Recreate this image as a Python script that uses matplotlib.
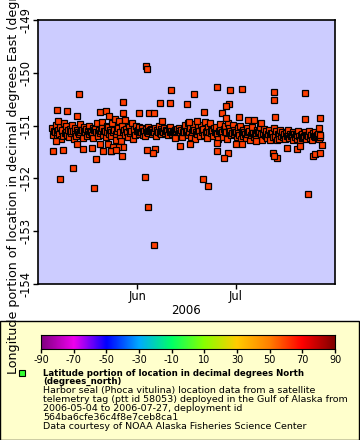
import numpy as np
import matplotlib
matplotlib.use('Agg')
import matplotlib.pyplot as plt
from matplotlib.colors import LinearSegmentedColormap
from matplotlib.patches import Rectangle
from matplotlib.lines import Line2D

plt.rcParams['font.family'] = 'DejaVu Sans'

# days since 2006-05-01, longitude (deg E)
base = np.datetime64('2006-05-01T00:00')
fix_hours = [3, 9, 15, 21]

# main band: day, then one value per fix of that day
band_rows = [
    (5, -151.05, -151.18, -151.10, -151.12), (6, -150.98, -151.22, -151.12, -151.08),
    (7, -151.15, -151.03, -151.25, -151.11), (8, -151.08, -151.20, -150.96, -151.14),
    (9, -151.12, -151.00, -151.17, -151.09), (10, -151.22, -151.07, -151.14, -151.10),
    (11, -150.99, -151.11, -151.26, -151.13), (12, -151.04, -151.19, -151.09, -151.12),
    (13, -151.16, -150.97, -151.13, -151.08), (14, -151.08, -151.23, -151.02, -151.11),
    (15, -151.13, -151.06, -151.20, -151.10), (16, -151.01, -151.15, -151.10, -151.13),
    (17, -151.18, -151.04, -151.24, -151.09), (18, -151.07, -151.12, -150.95, -151.14),
    (19, -151.20, -151.09, -151.14, -151.11), (20, -150.93, -151.05, -151.17, -151.10),
    (21, -151.11, -151.22, -151.00, -151.13), (22, -151.03, -151.16, -151.08, -151.12),
    (23, -151.19, -150.96, -151.12, -151.09), (24, -150.88, -151.15, -151.27, -151.10),
    (25, -151.05, -150.92, -151.20, -151.12), (26, -151.30, -151.00, -151.12, -151.08),
    (27, -150.90, -151.18, -151.07, -151.13), (28, -151.22, -151.03, -151.14, -151.10),
    (29, -151.10, -150.95, -151.25, -151.12), (30, -151.06, -151.17, -151.00, -151.11),
    (31, -151.08, -151.15, -151.03, -151.12), (32, -151.12, -151.05, -151.18, -151.10),
    (33, -151.10, -151.20, -151.06, -151.13), (34, -151.14, -151.02, -151.11, -151.09),
    (35, -151.07, -151.16, -151.09, -151.12), (36, -151.13, -151.04, -151.19, -151.10),
    (37, -151.09, -151.12, -151.01, -151.14), (38, -151.16, -151.07, -151.11, -151.13),
    (39, -151.05, -151.14, -151.10, -151.08), (40, -151.11, -151.18, -151.06, -151.12),
    (41, -151.03, -151.10, -151.15, -151.12), (42, -151.12, -151.08, -151.20, -151.10),
    (43, -151.07, -151.16, -151.04, -151.11), (44, -151.14, -151.09, -151.22, -151.12),
    (45, -151.06, -151.12, -150.98, -151.10), (46, -151.10, -150.95, -151.18, -151.13),
    (47, -151.04, -151.22, -151.12, -151.09), (48, -150.97, -151.08, -151.25, -151.12),
    (49, -151.15, -151.02, -151.10, -151.11), (50, -151.20, -150.99, -151.13, -151.08),
    (51, -151.06, -151.17, -150.94, -151.12), (52, -151.11, -151.24, -151.03, -151.13),
    (53, -150.96, -151.14, -151.08, -151.11), (54, -151.19, -151.05, -151.12, -151.10),
    (55, -151.02, -151.16, -151.26, -151.11), (56, -151.09, -150.97, -151.14, -151.12),
    (57, -151.21, -151.07, -151.00, -151.13), (58, -151.13, -151.25, -150.95, -151.10),
    (59, -151.04, -151.11, -151.18, -151.14), (60, -150.98, -151.15, -151.08, -151.12),
    (61, -151.12, -151.22, -151.05, -151.14), (62, -151.17, -151.00, -151.26, -151.12),
    (63, -151.08, -151.19, -151.13, -151.15), (64, -151.24, -151.04, -151.15, -151.13),
    (65, -151.10, -151.28, -151.18, -151.14), (66, -151.02, -151.14, -151.21, -151.16),
    (67, -151.16, -151.25, -151.09, -151.13), (68, -151.11, -151.03, -151.20, -151.15),
    (69, -151.27, -151.14, -151.06, -151.17), (70, -151.19, -151.10, -151.23, -151.15),
    (71, -151.08, -151.17, -151.28, -151.14), (72, -151.14, -151.22, -151.05, -151.18),
    (73, -151.20, -151.10, -151.27, -151.16), (74, -151.16, -151.25, -151.08, -151.19),
    (75, -151.12, -151.21, -151.18, -151.16), (76, -151.26, -151.14, -151.19, -151.17),
    (77, -151.09, -151.23, -151.16, -151.19), (78, -151.18, -151.28, -151.12, -151.16),
    (79, -151.22, -151.15, -151.25, -151.18), (80, -151.11, -151.19, -151.27, -151.17),
    (81, -151.24, -151.16, -151.21, -151.19), (82, -151.13, -151.26, -151.18, -151.17),
    (83, -151.20, -151.10, -151.24, -151.18), (84, -151.17, -151.27, -151.14, -151.19),
    (85, -151.22, -151.12, -151.19, -151.17), (86, -151.15, -151.25, -151.21, -151.18),
]

# scattered fixes away from the band
out_t = [13.1, 6.5, 9.5, 12.6, 19.6, 21.4, 22.3, 6.8, 5.3, 8.3,
         14.4, 17.2, 12.5, 6.1, 18.4, 11.4, 7.3, 17.8, 20.5, 22.9,
         19.7, 22.1, 33.8, 34.0, 41.2, 37.8, 40.9, 26.6, 31.5, 34.6,
         36.1, 26.7, 38.5, 43.9, 42.5, 33.3, 34.3, 36.1, 26.3, 26.6,
         25.1, 23.5, 23.1, 24.4, 34.0, 36.4, 35.8, 55.2, 59.3, 62.9,
         48.3, 46.2, 58.9, 58.0, 51.4, 56.8, 58.1, 62.0, 64.9, 66.6,
         47.1, 55.3, 55.3, 58.6, 57.5, 61.1, 63.0, 67.1, 51.1, 52.6,
         72.6, 72.6, 82.2, 82.2, 86.7, 86.4, 73.0, 68.8, 87.3, 76.7,
         79.7, 80.6, 72.3, 73.6, 72.7, 84.5, 85.2, 86.8, 83.1, 46.8,
         49.2]
out_lon = [-150.40, -150.70, -150.72, -150.81, -150.74, -150.72, -150.81, -150.91, -151.48, -151.46,
           -151.44, -151.42, -151.35, -151.30, -151.63, -151.80, -152.01, -152.18, -151.48, -151.48,
           -151.35, -151.35, -149.87, -149.93, -150.32, -150.57, -150.57, -150.55, -150.77, -150.77,
           -150.77, -150.76, -150.91, -151.38, -151.23, -151.97, -152.54, -153.26, -151.57, -151.40,
           -151.40, -151.40, -151.49, -151.46, -151.46, -151.44, -151.51, -150.26, -150.32, -150.31,
           -150.41, -150.59, -150.59, -150.62, -150.74, -150.76, -150.86, -150.83, -150.89, -150.89,
           -151.34, -151.33, -151.48, -151.51, -151.61, -151.34, -151.34, -151.30, -152.01, -152.14,
           -150.36, -150.51, -150.38, -150.87, -150.85, -151.04, -150.83, -150.95, -151.36, -151.42,
           -151.44, -151.38, -151.51, -151.61, -151.57, -151.57, -151.53, -151.51, -152.29, -150.93,
           -150.91]

x_ticks = [31, 61]
x_ticklabels = ['Jun', 'Jul']
y_ticks = [-154, -153, -152, -151, -150, -149]
cbar_ticks = [-90, -70, -50, -30, -10, 10, 30, 50, 70, 90]
cbar_colors = ['#800080', '#ee00ee', '#0000ff', '#00aaff', '#00ff66',
               '#88ff00', '#ffcc00', '#ff8000', '#ff0000', '#800000']

legend_lines = [
    'Harbor seal (Phoca vitulina) location data from a satellite',
    'telemetry tag (ptt id 58053) deployed in the Gulf of Alaska from',
    '2006-05-04 to 2006-07-27, deployment id',
    '564ba6cfe36c4f8e7ceb8ca1',
    'Data courtesy of NOAA Alaska Fisheries Science Center',
]


def to_time(days):
    days = np.asarray(days, dtype=float)
    return base + (days * 86400).astype('int64').astype('timedelta64[s]')


band_t = []
band_lon = []
for row in band_rows:
    for h, v in zip(fix_hours, row[1:]):
        band_t.append(row[0] + h / 24.0)
        band_lon.append(v)

all_t = np.concatenate([band_t, out_t])
all_lon = np.concatenate([band_lon, out_lon])

fig = plt.figure(figsize=(3.6, 4.4), dpi=100)
ax = fig.add_axes([37.7 / 360, 1 - 284 / 440, 297.3 / 360, 264 / 440])
ax.set_facecolor('#ccccff')
ax.plot(to_time(all_t), all_lon, 's', ls='none', ms=5.0,
        mfc='#ff3d00', mec='black', mew=0.9)

ax.set_xlim(to_time(0.61), to_time(91.33))
ax.set_ylim(-154, -149)
ax.set_xticks(to_time(x_ticks))
ax.set_xticklabels(x_ticklabels)
ax.set_yticks(y_ticks)
ax.set_yticklabels([str(v) for v in y_ticks], rotation=90, va='center')
ax.tick_params(direction='out', length=3.5, width=1, labelsize=8.3, pad=0.5)
for s in ax.spines.values():
    s.set_linewidth(1.2)
ax.set_xlabel('2006', fontsize=8.5, labelpad=1)
ax.set_ylabel('Longitude portion of location in decimal degrees East (degrees_east)',
              fontsize=9.1)
ax.yaxis.set_label_coords(-0.058, 0.49)

# legend box
fig.add_artist(Rectangle((0, 0), 359 / 360, 1 - 321 / 440, transform=fig.transFigure,
                         fc='#ffffcc', ec='black', lw=1, zorder=-1))

cax = fig.add_axes([41 / 360, 1 - 349 / 440, 294 / 360, 14 / 440])
cmap = LinearSegmentedColormap.from_list(
    'rainbow_erd', list(zip(np.linspace(0, 1, len(cbar_colors)), cbar_colors)))
grad = np.linspace(-90, 90, 256).reshape(1, -1)
cax.imshow(grad, aspect='auto', cmap=cmap, extent=[-90, 90, 0, 1])
cax.set_xlim(-90, 90)
cax.set_yticks([])
cax.set_xticks(cbar_ticks)
cax.set_xticklabels([str(v) for v in cbar_ticks])
cax.tick_params(axis='x', direction='out', length=3, width=1, labelsize=7, pad=1)
for s in cax.spines.values():
    s.set_linewidth(0.8)

fig.add_artist(Line2D([22 / 360], [1 - 373 / 440], marker='s', ms=4.2, ls='none',
                      mfc='#33ff33', mec='black', mew=0.8, transform=fig.transFigure))
fig.text(43 / 360, 1 - 373 / 440, 'Latitude portion of location in decimal degrees North',
         fontsize=6.25, fontweight='bold', va='center')
fig.text(43 / 360, 1 - 381.5 / 440, '(degrees_north)',
         fontsize=6.25, fontweight='bold', va='center')
for i, line in enumerate(legend_lines):
    fig.text(43 / 360, 1 - (390.7 + 9 * i) / 440, line, fontsize=6.8, va='center')

fig.savefig('out.png', dpi=100)
